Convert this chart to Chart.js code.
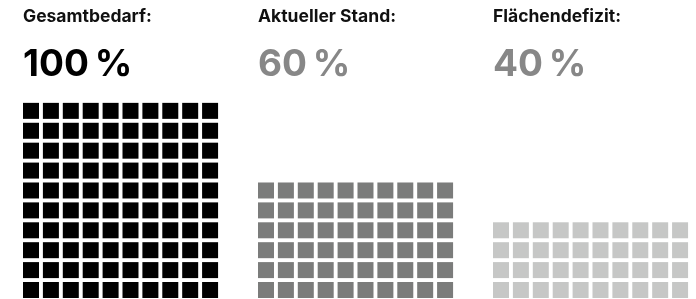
<!DOCTYPE html>
<html>
<head>
<meta charset="utf-8">
<script src="https://cdn.jsdelivr.net/npm/chart.js@4.4.1/dist/chart.umd.min.js"></script>
<style>
  body { margin: 0; background: #fff; }
  .wrap { width: 696px; height: 299px; position: relative; }
</style>
</head>
<body>
<div class="wrap"><canvas id="waffle"></canvas></div>
<script>
// data
const categories = ['Gesamtbedarf:', 'Aktueller Stand:', 'Flächendefizit:'];
const shares = [100, 60, 40];
const valueLabels = ['100\u202F%', '60\u202F%', '40\u202F%'];
const cellColors = ['#000000', '#7b7c7b', '#c6c7c6'];
const labelColors = ['#000000', '#878787', '#878787'];

const perRow = 10;
const groupStep = 11.81; // columns from one waffle to the next

// one point per percent, filled row by row from the bottom
const datasets = shares.map((v, g) => {
  const pts = [];
  for (let i = 0; i < v; i++) {
    pts.push({ x: g * groupStep + (i % perRow), y: Math.floor(i / perRow) });
  }
  return {
    label: categories[g],
    data: pts,
    pointStyle: 'rect',
    pointRadius: 8 * Math.SQRT2,
    pointHoverRadius: 8 * Math.SQRT2,
    backgroundColor: cellColors[g],
    borderWidth: 0
  };
});

const headers = {
  id: 'headers',
  afterDraw(chart) {
    const ctx = chart.ctx;
    const xs = chart.scales.x;
    ctx.save();
    ctx.textBaseline = 'alphabetic';
    ctx.textAlign = 'left';
    categories.forEach((c, g) => {
      const left = xs.getPixelForValue(g * groupStep) - 8;
      ctx.fillStyle = '#111111';
      ctx.font = 'bold 17.5px Inter';
      ctx.fillText(c, left, 22);
      ctx.fillStyle = labelColors[g];
      ctx.font = 'bold 37px Inter';
      ctx.fillText(valueLabels[g], left, 76);
    });
    ctx.restore();
  }
};

new Chart(document.getElementById('waffle'), {
  type: 'scatter',
  data: { datasets },
  options: {
    responsive: true,
    maintainAspectRatio: false,
    animation: false,
    layout: { padding: 0, autoPadding: false },
    plugins: { legend: { display: false }, tooltip: { enabled: false } },
    scales: {
      x: { display: false, min: -1.558, max: 33.42 },
      y: { display: false, min: -0.452, max: 14.57 }
    }
  },
  plugins: [headers]
});
</script>
</body>
</html>
